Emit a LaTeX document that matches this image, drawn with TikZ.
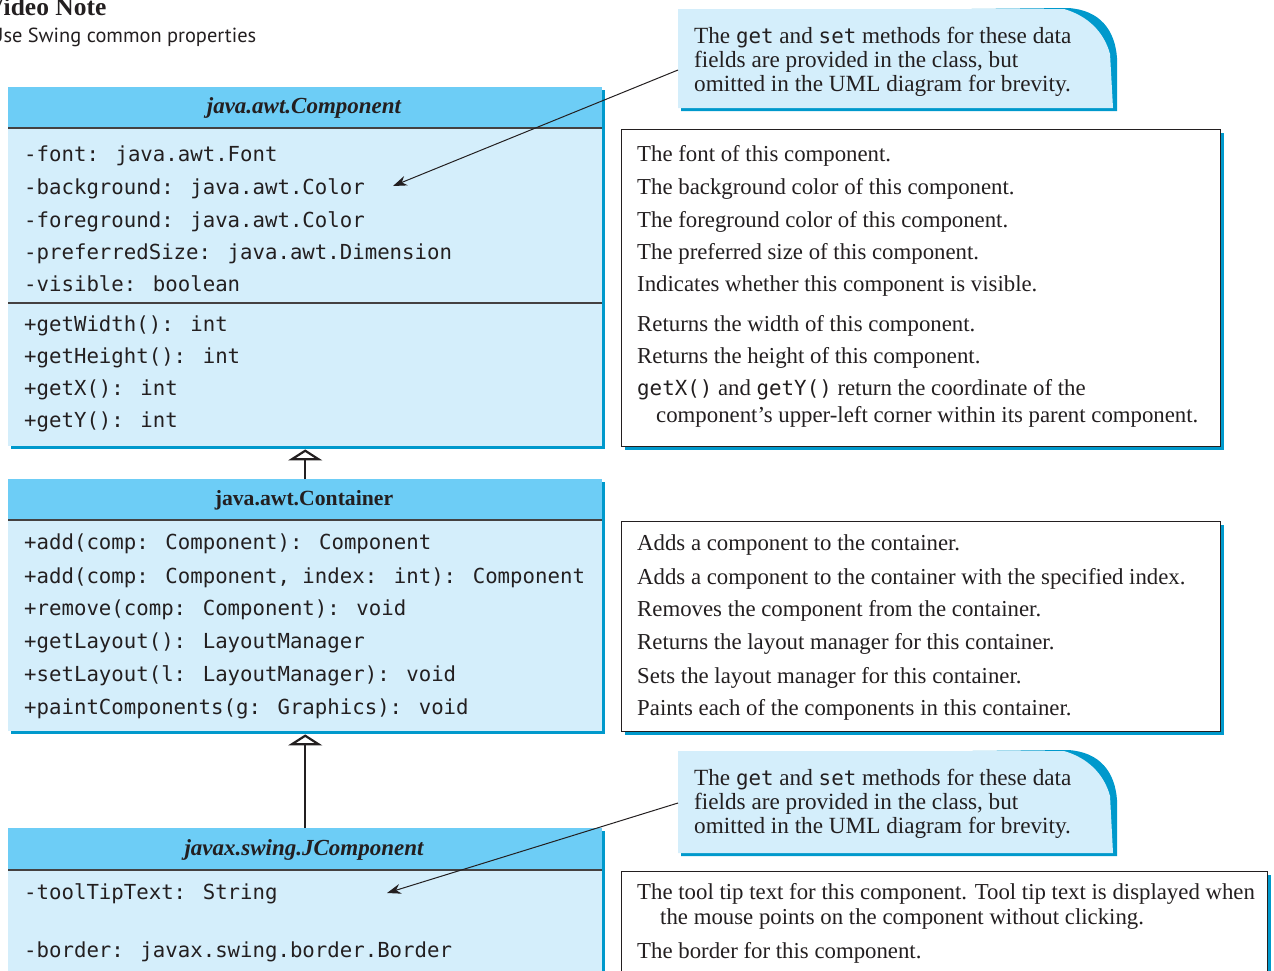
\documentclass[tikz,border=0pt]{standalone}
\usepackage{fontspec}
\setmainfont{Liberation Serif}
\newfontfamily\monof{DejaVu Sans Mono}
\newfontfamily\sansf{PT Sans}
\usetikzlibrary{arrows.meta,shadows}
\definecolor{hblue}{HTML}{6DCDF6}
\definecolor{lblue}{HTML}{D4EEFB}
\definecolor{sblue}{HTML}{0099CC}
\definecolor{ink}{HTML}{231F20}
\newcommand{\mycode}[1]{{\monof\fontsize{20.8}{26}\selectfont #1}}
\tikzset{
  txt/.style={anchor=base west, inner sep=0pt, text=ink, font=\fontsize{22.8}{26}\selectfont},
  notetxt/.style={anchor=base west, inner sep=0pt, text=ink, font=\fontsize{23.2}{26}\selectfont},
  code/.style={anchor=base west, inner sep=0pt, text=ink, font=\monof\fontsize{20.7}{26}\selectfont},
  ttl/.style={anchor=base, inner sep=0pt, text=ink, font=\fontsize{21.7}{26}\selectfont\bfseries},
  ttli/.style={anchor=base, inner sep=0pt, text=ink, font=\fontsize{23}{26}\selectfont\bfseries\itshape},
  classbox/.style={rectangle, inner sep=0pt, anchor=north west, fill=lblue,
    drop shadow={opacity=1, fill=sblue, shadow xshift=3pt, shadow yshift=-3pt}},
  descbox/.style={rectangle, inner sep=0pt, anchor=north west, fill=white, draw=ink, line width=1pt,
    drop shadow={opacity=1, fill=sblue, shadow xshift=3pt, shadow yshift=-3pt}},
  sepline/.style={draw=ink!85, line width=1.4pt},
  ptr/.style={draw=ink, line width=1pt, -{Stealth[length=14pt, width=10pt]}},
  inh/.style={draw=ink, line width=2.2pt, -{Triangle[open, length=11pt, width=34pt, fill=white]}},
}
\begin{document}
\begin{tikzpicture}[x=1pt,y=-1pt]
\useasboundingbox (0,0) rectangle (1274,970);

% video note
\node[anchor=base west, inner sep=0pt, text=ink, font=\fontsize{25.5}{28}\selectfont\bfseries] (vn) at (-14,15) {Video Note};
\node[anchor=base west, inner sep=0pt, text=ink, font=\sansf\fontsize{20.4}{26}\selectfont] (vs) at (-10,42) {Use Swing common properties};

% ---------- class boxes ----------
\node[classbox, minimum width=594pt, minimum height=359pt] (comp) at (8,87) {};
\fill[hblue] (8,87) rectangle (602,128);
\draw[sepline] (8,128) -- (602,128);
\draw[sepline] (8,303) -- (602,303);
\node[ttli] (compt) at (304,113) {java.awt.Component};
\node[code] (c1) at (24,161) {-font: java.awt.Font};
\node[code] (c2) at (24,194) {-background: java.awt.Color};
\node[code] (c3) at (24,227) {-foreground: java.awt.Color};
\node[code] (c4) at (24,259) {-preferredSize: java.awt.Dimension};
\node[code] (c5) at (24,291) {-visible: boolean};
\node[code] (c6) at (24,331) {+getWidth(): int};
\node[code] (c7) at (24,363) {+getHeight(): int};
\node[code] (c8) at (24,395) {+getX(): int};
\node[code] (c9) at (24,427) {+getY(): int};

\node[classbox, minimum width=594pt, minimum height=252pt] (cont) at (8,479) {};
\fill[hblue] (8,479) rectangle (602,520);
\draw[sepline] (8,520) -- (602,520);
\node[ttl] (contt) at (304,505) {java.awt.Container};
\node[code] (k1) at (24,549) {+add(comp: Component): Component};
\node[code] (k2) at (24,583) {+add(comp: Component, index: int): Component};
\node[code] (k3) at (24,615) {+remove(comp: Component): void};
\node[code] (k4) at (24,648) {+getLayout(): LayoutManager};
\node[code] (k5) at (24,681) {+setLayout(l: LayoutManager): void};
\node[code] (k6) at (24,714) {+paintComponents(g: Graphics): void};

\node[classbox, minimum width=594pt, minimum height=170pt] (jcomp) at (8,828) {};
\fill[hblue] (8,828) rectangle (602,870);
\draw[sepline] (8,870) -- (602,870);
\node[ttli] (jcompt) at (304,855) {javax.swing.JComponent};
\node[code] (j1) at (24,899) {-toolTipText: String};
\node[code] (j2) at (24,957) {-border: javax.swing.border.Border};

% inheritance
\draw[inh] (cont.north) -- ([yshift=-3pt]comp.south);
\draw[inh] (jcomp.north) -- ([yshift=-3pt]cont.south);

% ---------- description boxes ----------
\node[descbox, minimum width=599pt, minimum height=317pt] (d1) at (621,129) {};
\node[txt] (d1a) at (637,161) {The font of this component.};
\node[txt] (d1b) at (637,194) {The background color of this component.};
\node[txt] (d1c) at (637,227) {The foreground color of this component.};
\node[txt] (d1d) at (637,259) {The preferred size of this component.};
\node[txt] (d1e) at (637,291) {Indicates whether this component is visible.};
\node[txt] (d1f) at (637,331) {Returns the width of this component.};
\node[txt] (d1g) at (637,363) {Returns the height of this component.};
\node[txt] (d1h) at (637,395) {\mycode{getX()} and \mycode{getY()} return the coordinate of the};
\node[txt] (d1i) at (656,422) {component’s upper-left corner within its parent component.};

\node[descbox, minimum width=599pt, minimum height=210pt] (d2) at (621,521) {};
\node[txt] (d2a) at (637,550) {Adds a component to the container.};
\node[txt] (d2b) at (637,584) {Adds a component to the container with the specified index.};
\node[txt] (d2c) at (637,616) {Removes the component from the container.};
\node[txt] (d2d) at (637,649) {Returns the layout manager for this container.};
\node[txt] (d2e) at (637,683) {Sets the layout manager for this container.};
\node[txt] (d2f) at (637,715) {Paints each of the components in this container.};

\node[descbox, minimum width=646pt, minimum height=130pt] (d3) at (621,871) {};
\node[txt] (d3a) at (637,899) {The tool tip text for this component. Tool tip text is displayed when};
\node[txt] (d3b) at (660,924) {the mouse points on the component without clicking.};
\node[txt] (d3c) at (637,958) {The border for this component.};

% ---------- callout notes ----------
\fill[sblue] (681,12) -- (1068,8) .. controls (1100,10) and (1115,30) .. (1117,58) -- (1117,111) -- (681,111) -- cycle;
\fill[lblue] (678,9) -- (1064,9) .. controls (1088,16) and (1104,32) .. (1110,54) -- (1113,108) -- (678,108) -- cycle;
\node[notetxt] (n1a) at (694,43) {The \mycode{get} and \mycode{set} methods for these data};
\node[notetxt] (n1b) at (694,67) {fields are provided in the class, but};
\node[notetxt] (n1c) at (694,91) {omitted in the UML diagram for brevity.};
\coordinate (n1) at (678,70);
\coordinate (n1tip) at (393,186);
\draw[ptr] (n1) -- (n1tip);

\fill[sblue] (681,754) -- (1068,750) .. controls (1100,752) and (1115,772) .. (1117,800) -- (1117,856) -- (681,856) -- cycle;
\fill[lblue] (678,751) -- (1064,751) .. controls (1088,758) and (1104,774) .. (1110,796) -- (1113,853) -- (678,853) -- cycle;
\node[notetxt] (n2a) at (694,785) {The \mycode{get} and \mycode{set} methods for these data};
\node[notetxt] (n2b) at (694,809) {fields are provided in the class, but};
\node[notetxt] (n2c) at (694,833) {omitted in the UML diagram for brevity.};
\coordinate (n2) at (678,803);
\coordinate (n2tip) at (387,893);
\draw[ptr] (n2) -- (n2tip);
\end{tikzpicture}
\end{document}
